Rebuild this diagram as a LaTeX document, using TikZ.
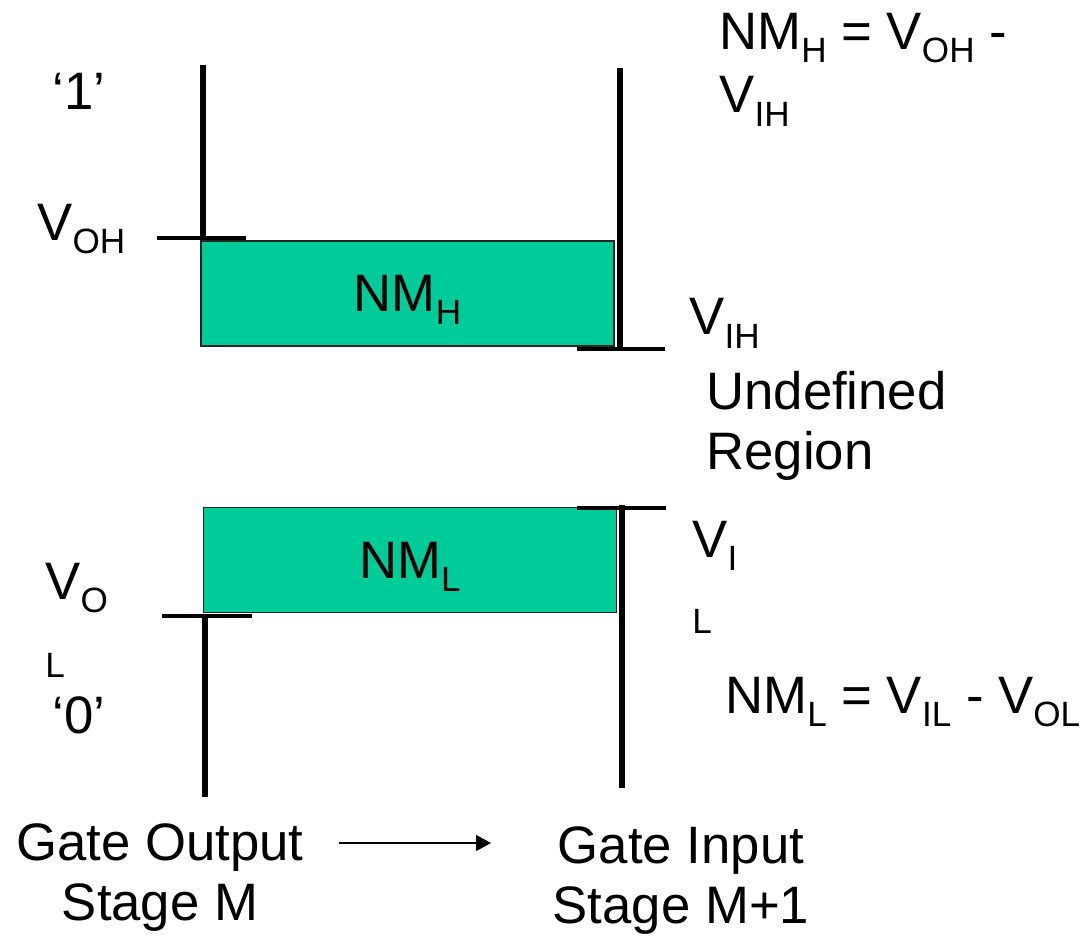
\documentclass[tikz,border=0pt]{standalone}
\usepackage{fontspec}
\setmainfont{Liberation Sans}
\usepackage{xcolor}
\usepackage{tikz}
\usetikzlibrary{arrows.meta, positioning}
\definecolor{figteal}{RGB}{0,204,153}
\definecolor{figedge}{RGB}{30,40,35}
\newcommand{\lowsub}[1]{\smash{\raisebox{-7.5pt}{\fontsize{20}{22}\selectfont #1}}}
\newcommand{\smallsub}[1]{{\fontsize{20}{22}\selectfont #1}}
\tikzstyle{marginbox} = [rectangle, fill=figteal, draw=figedge, line width=0.9pt,
minimum width=8.26cm, minimum height=2.1cm, inner sep=0pt, outer sep=0pt,
font=\fontsize{30}{34}\selectfont]
\tikzstyle{lbl} = [inner sep=0pt, anchor=base west, font=\fontsize{30}{34}\selectfont]
\tikzstyle{rail} = [line width=3.2pt]
\tikzstyle{tick} = [line width=2.3pt]
\tikzstyle{arrow} = [-{Triangle[length=8.5pt, width=9pt]}, line width=1.1pt]

\begin{document}
\begin{tikzpicture}[x=0.02cm, y=-0.02cm]
    \useasboundingbox (0,0) rectangle (1083,936);
    % noise margin boxes
    \node (nmh) [marginbox] at (407.5,293.5) {NM\lowsub{H}};
    \node (nml) [marginbox] at (410,560) {NM\lowsub{L}};

    % output and input rails
    \draw[rail] (203,65) -- (203,238);
    \draw[rail] (205,616) -- (205,797);
    \draw[rail] (620,68) -- (620,350);
    \draw[rail] (622,505) -- (622,788);

    % level ticks
    \draw[tick] (157,238) -- (246,238);
    \draw[tick] (577,349) -- (665,349);
    \draw[tick] (577,508) -- (666,508);
    \draw[tick] (162,616) -- (252,616);

    % level labels (multi-line nodes sit on their last baseline)
    \node (one)  [lbl] at (52,110) {‘1’};
    \node (voh)  [lbl] at (37,240) {V\lowsub{OH}};
    \node (vo)   [lbl] at (45,599) {V\lowsub{O}};
    \node (vol)  [lbl] at (45,677) {\smallsub{L}};
    \node (zero) [lbl] at (52,733) {‘0’};
    \node (vih)  [lbl] at (689,335) {V\lowsub{IH}};
    \node (undef) [lbl, align=left] at (706,469) {Undefined\\Region};
    \node (vi)   [lbl] at (692,557) {V\lowsub{I}};
    \node (vil)  [lbl] at (692,633) {\smallsub{L}};

    % equations
    \node (nmheq) [lbl, align=left] at (719,113)
    {NM\lowsub{H} = V\lowsub{OH} -\\[2pt]V\lowsub{IH}};
    \node (nmleq) [lbl] at (725,713)
    {NM\lowsub{L} = V\lowsub{IL} - V\lowsub{OL}};

    % stages
    \node (gateout) [lbl, anchor=base, align=center] at (160,920)
    {Gate Output\\Stage M};
    \node (gatein) [lbl, anchor=base, align=center] at (681,923)
    {Gate Input\\Stage M+1};

    \draw[arrow, shorten <=19.8pt, shorten >=35pt]
    (gateout.east |- 0,843) -- (gatein.west |- 0,843);
\end{tikzpicture}
\end{document}
